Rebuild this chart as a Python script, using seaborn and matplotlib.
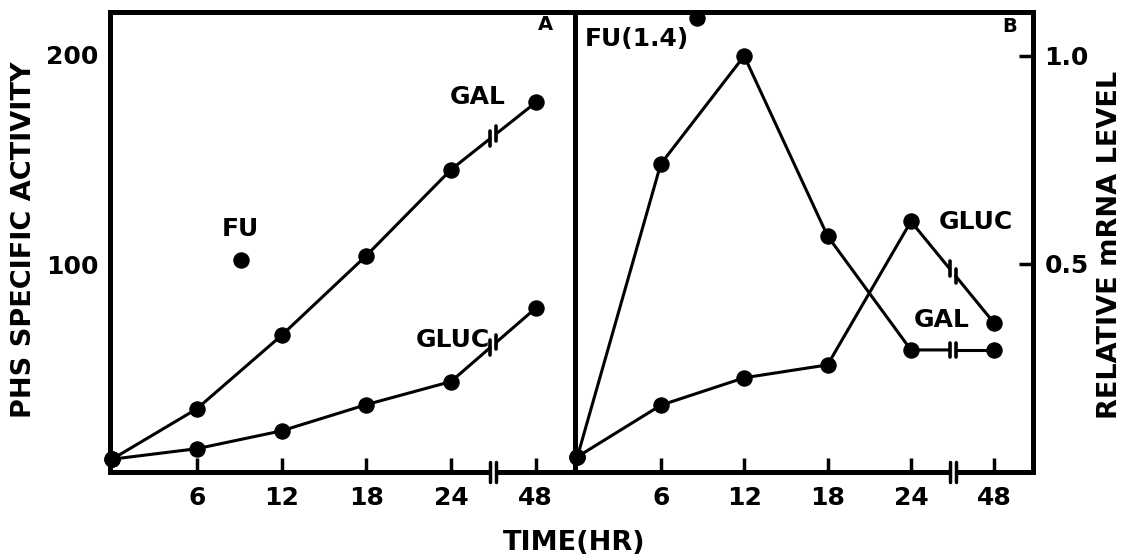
import numpy as np
import pandas as pd
import matplotlib
matplotlib.use('Agg')
import matplotlib.pyplot as plt
import seaborn as sns

# sampling times (hours); 48 h sits after an axis break
hours = [0, 6, 12, 18, 24, 48]
hour_ticks = [6, 12, 18, 24, 48]

# panel A: PHS specific activity
phs_gal = [7, 31, 66, 104, 145, 177]
phs_gluc = [7, 12, 20.5, 33, 44, 79]
fu_hour_a = 9.1
fu_phs = 102

# panel B: relative mRNA level
mrna_gal = [0.036, 0.74, 1.0, 0.567, 0.293, 0.293]
mrna_gluc = [0.036, 0.16, 0.226, 0.257, 0.602, 0.357]
fu_hour_b = 8.6
fu_mrna = 1.09

BREAK = 27.0   # axis position of the time break
GAP = 0.22
LW = 2.2
DOT = 120

sns.set_style('white')
plt.rcParams['font.family'] = ['DejaVu Sans']
plt.rcParams['font.weight'] = 'bold'
for key in ('text.color', 'xtick.color', 'ytick.color', 'axes.labelcolor'):
    plt.rcParams[key] = 'black'


def to_pos(h):
    # 0-24 h linear, 48 h drawn one step past 24
    return h if h <= 24 else 30


def draw_series(ax, vals, yrange):
    pos = [to_pos(h) for h in hours]
    p0, p1 = pos[-2], pos[-1]
    v0, v1 = vals[-2], vals[-1]
    fa = (BREAK - GAP - p0) / (p1 - p0)
    fb = (BREAK + GAP - p0) / (p1 - p0)
    va = v0 + fa * (v1 - v0)
    vb = v0 + fb * (v1 - v0)
    first = pd.DataFrame({'x': pos[:-1] + [BREAK - GAP], 'y': vals[:-1] + [va]})
    second = pd.DataFrame({'x': [BREAK + GAP, p1], 'y': [vb, v1]})
    for part in (first, second):
        sns.lineplot(data=part, x='x', y='y', ax=ax, color='black', lw=LW,
                     sort=False, estimator=None)
    # break bars on the line
    d = 0.016 * yrange
    for xb, yb in ((BREAK - GAP, va), (BREAK + GAP, vb)):
        ax.plot([xb, xb], [yb - d, yb + d], color='black', lw=LW + 0.4)
    pts = pd.DataFrame({'x': pos, 'y': vals})
    sns.scatterplot(data=pts, x='x', y='y', ax=ax, color='black', s=DOT,
                    edgecolor='black', zorder=4, clip_on=False)


def style_axes(ax, side):
    for sp in ax.spines.values():
        sp.set_linewidth(3.6)
        sp.set_color('black')
    ax.set_xlim(-0.15, 32.8)
    ax.set_xticks([to_pos(h) for h in hour_ticks])
    ax.set_xticklabels([str(h) for h in hour_ticks])
    ax.tick_params(axis='x', direction='in', length=10, width=2.5,
                   labelsize=18, pad=10, bottom=True, top=False)
    ax.tick_params(axis='y', direction='in', length=10, width=2.5,
                   labelsize=18, pad=8)
    if side == 'right':
        ax.yaxis.tick_right()
    ax.set_xlabel('')
    ax.set_ylabel('')
    # break in the time axis
    tr = ax.get_xaxis_transform()
    ax.plot([BREAK - GAP, BREAK + GAP], [0, 0], transform=tr, color='white',
            lw=6, zorder=5, clip_on=False, solid_capstyle='butt')
    for xb in (BREAK - GAP, BREAK + GAP):
        ax.plot([xb, xb], [-0.022, 0.022], transform=tr, color='black',
                lw=2.5, zorder=6, clip_on=False)


fig = plt.figure(figsize=(11.28, 5.57), dpi=100)
axA = fig.add_axes([0.0975, 0.153, 0.4125, 0.825])
axB = fig.add_axes([0.51, 0.153, 0.406, 0.825])

# ---- panel A
axA.set_ylim(1, 220)
draw_series(axA, phs_gal, 219)
draw_series(axA, phs_gluc, 219)
sns.scatterplot(x=[fu_hour_a], y=[fu_phs], ax=axA, color='black', s=DOT,
                edgecolor='black', zorder=4)
style_axes(axA, 'left')
axA.set_yticks([100, 200])
axA.text(25.9, 179.5, 'GAL', ha='center', va='center', fontsize=18)
axA.text(24.1, 64, 'GLUC', ha='center', va='center', fontsize=18)
axA.text(fu_hour_a, 116.5, 'FU', ha='center', va='center', fontsize=18)
axA.text(30.7, 214, 'A', ha='center', va='center', fontsize=14)

# ---- panel B
axB.set_ylim(0.0, 1.105)
draw_series(axB, mrna_gal, 1.1)
draw_series(axB, mrna_gluc, 1.1)
sns.scatterplot(x=[fu_hour_b], y=[fu_mrna], ax=axB, color='black', s=DOT,
                edgecolor='black', zorder=1, clip_on=False)
style_axes(axB, 'right')
axB.set_yticks([0.5, 1.0])
axB.set_yticklabels(['0.5', '1.0'])
axB.text(0.5, 1.04, 'FU(1.4)', ha='left', va='center', fontsize=18)
axB.text(26.0, 0.60, 'GLUC', ha='left', va='center', fontsize=18)
axB.text(26.2, 0.364, 'GAL', ha='center', va='center', fontsize=18)
axB.text(31.1, 1.07, 'B', ha='center', va='center', fontsize=14)

fig.text(0.021, 0.569, 'PHS SPECIFIC ACTIVITY', rotation=90, ha='center',
         va='center', fontsize=19.5)
fig.text(0.984, 0.56, 'RELATIVE mRNA LEVEL', rotation=90, ha='center',
         va='center', fontsize=19.5)
fig.text(0.509, 0.026, 'TIME(HR)', ha='center', va='center', fontsize=19.5)

fig.savefig('out.png', dpi=100)
